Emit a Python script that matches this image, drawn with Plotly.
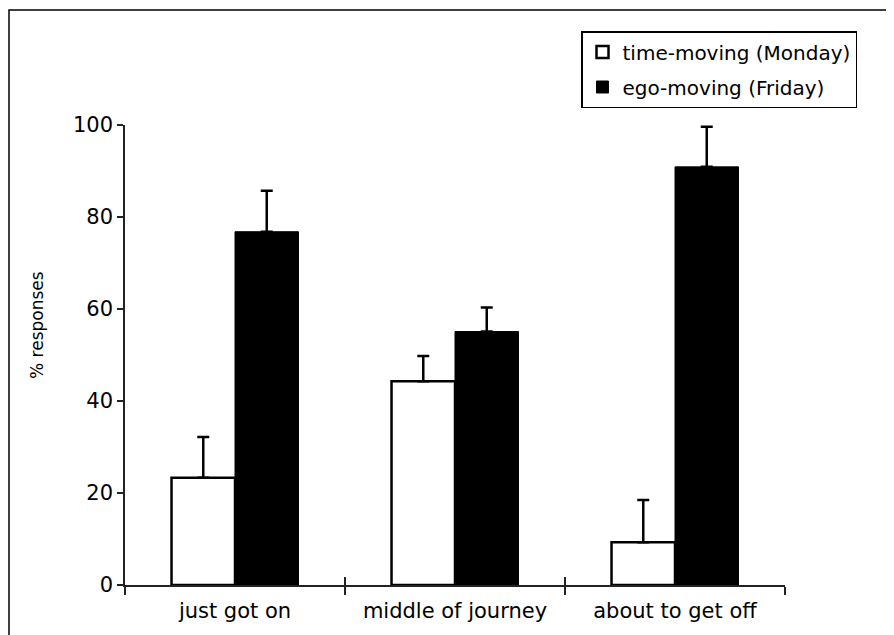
import plotly.graph_objects as go

categories = ["just got on", "middle of journey", "about to get off"]
time_moving = [23.3, 44.3, 9.3]
time_moving_err = [8.9, 5.5, 9.2]
ego_moving = [76.8, 55.1, 90.9]
ego_moving_err = [8.9, 5.2, 8.7]
y_ticks = [0, 20, 40, 60, 80, 100]

FONT = "DejaVu Sans"
OFF = 8  # default page body margin
W, H = 894 - OFF, 635 - OFF
L, T = 125 - OFF, 125 - OFF
pw, ph = 660, 460
R, B = W - L - pw, H - T - ph


def px_x(page_x):
    return (page_x - OFF - L) / pw


def px_y(page_y):
    return (T + ph - (page_y - OFF)) / ph


fig = go.Figure()
fig.add_trace(go.Bar(
    x=categories, y=time_moving, name="time-moving (Monday)", legendgroup="a",
    marker=dict(color="white", line=dict(color="black", width=2.5)),
    error_y=dict(type="data", symmetric=False, array=time_moving_err,
                 arrayminus=[0] * len(time_moving_err),
                 color="black", thickness=2.5, width=6),
))
fig.add_trace(go.Bar(
    x=categories, y=ego_moving, name="ego-moving (Friday)", legendgroup="b",
    marker=dict(color="black", line=dict(color="black", width=1)),
    error_y=dict(type="data", symmetric=False, array=ego_moving_err,
                 arrayminus=[0] * len(ego_moving_err),
                 color="black", thickness=2.5, width=6),
))
# empty helper trace carrying the inside half of the crossing x ticks
fig.add_trace(go.Scatter(x=[], y=[], xaxis="x2", showlegend=False, hoverinfo="skip"))

fig.update_layout(
    width=W, height=H,
    margin=dict(l=L, r=R, t=T, b=B, autoexpand=False),
    paper_bgcolor="white", plot_bgcolor="white",
    font=dict(family=FONT, color="black", size=21),
    barmode="group", bargap=0.423, bargroupgap=0,
    showlegend=True,
    legend=dict(
        x=px_x(581), xanchor="left",
        y=px_y(31), yanchor="top",
        bordercolor="black", borderwidth=1.5, bgcolor="white",
        font=dict(family=FONT, size=20, color="black"),
        itemwidth=30, tracegroupgap=6,
        entrywidthmode="pixels", entrywidth=262,
    ),
    xaxis=dict(
        type="category", showline=True, linecolor="#222", linewidth=1.5,
        ticks="outside", tickson="boundaries", ticklen=8, tickwidth=1.5, tickcolor="#222",
        showgrid=False, zeroline=False, ticklabelstandoff=6,
        tickfont=dict(family=FONT, size=21, color="black"),
        range=[-0.5, 2.5],
    ),
    xaxis2=dict(
        overlaying="x", anchor="y", range=[-0.5, 2.5],
        tickvals=[-0.5, 0.5, 1.5, 2.5], ticks="inside", ticklen=8, tickwidth=1.5,
        tickcolor="#222", showticklabels=False, showgrid=False, zeroline=False,
        showline=False,
    ),
    yaxis=dict(
        range=[0, 100], tickvals=y_ticks, showline=True, linecolor="#222", linewidth=1.5,
        ticks="outside", ticklen=6, tickwidth=1.5, tickcolor="#222",
        showgrid=False, zeroline=False,
        tickfont=dict(family=FONT, size=21, color="black"),
    ),
    annotations=[dict(
        text="% responses", xref="paper", yref="paper",
        x=px_x(37), y=px_y(325), xanchor="center", yanchor="middle",
        textangle=-90, showarrow=False,
        font=dict(family=FONT, size=17, color="black"),
    )],
    shapes=[dict(
        type="rect", xref="paper", yref="paper",
        x0=px_x(9), x1=px_x(893),
        y0=px_y(660), y1=px_y(10),
        line=dict(color="black", width=1.5), fillcolor="rgba(0,0,0,0)", layer="below",
    )],
)

fig.write_html("out.html")
